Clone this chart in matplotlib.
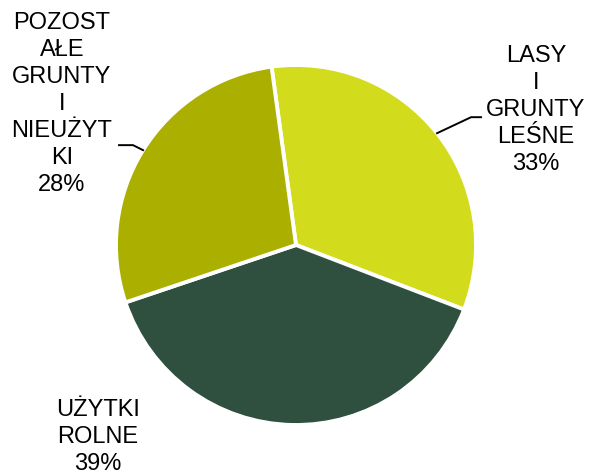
import matplotlib.pyplot as plt
import numpy as np

plt.rcParams['font.family'] = ['Liberation Sans', 'DejaVu Sans']

# data
labels = ['LASY\nI\nGRUNTY\nLEŚNE', 'UŻYTKI\nROLNE', 'POZOST\nAŁE\nGRUNTY\nI\nNIEUŻYT\nKI']
shares = [33, 39, 28]
colors = ['#d2dc1c', '#2f4f3f', '#abb000']

W, H = 592, 472
fig = plt.figure(figsize=(W / 100, H / 100), dpi=100)
ax = fig.add_axes([0, 0, 1, 1])
ax.set_aspect('equal')
ax.axis('off')

cx, cy, r = 296, H - 245, 180
start = 97.8
wedges, _ = ax.pie(shares, colors=colors, startangle=start, counterclock=False,
                   center=(cx, cy), radius=r,
                   wedgeprops=dict(edgecolor='white', linewidth=2.8))
ax.set_xlim(0, W)
ax.set_ylim(0, H)

# label positions (centre of text block)
text_pos = [(536, H - 110), (98, H - 437), (62, H - 104)]
has_leader = [True, False, True]

for w, lab, s, (tx, ty), lead in zip(wedges, labels, shares, text_pos, has_leader):
    ax.text(tx, ty, f'{lab}\n{s}%', ha='center', va='center', fontsize=17,
            linespacing=1.3, color='black')
    if lead:
        mid = np.deg2rad((w.theta1 + w.theta2) / 2)
        x0, y0 = cx + r * np.cos(mid), cy + r * np.sin(mid)
        if np.cos(mid) > 0:
            xs = [x0, x0 + 34, x0 + 44]
            ys = [y0, y0 + 16, y0 + 16]
        else:
            xs = [x0, x0 - 10, x0 - 24]
            ys = [y0, y0 + 5, y0 + 5]
        ax.plot(xs, ys, color='black', linewidth=1.4)

fig.savefig('out.png', dpi=100, facecolor='white')
